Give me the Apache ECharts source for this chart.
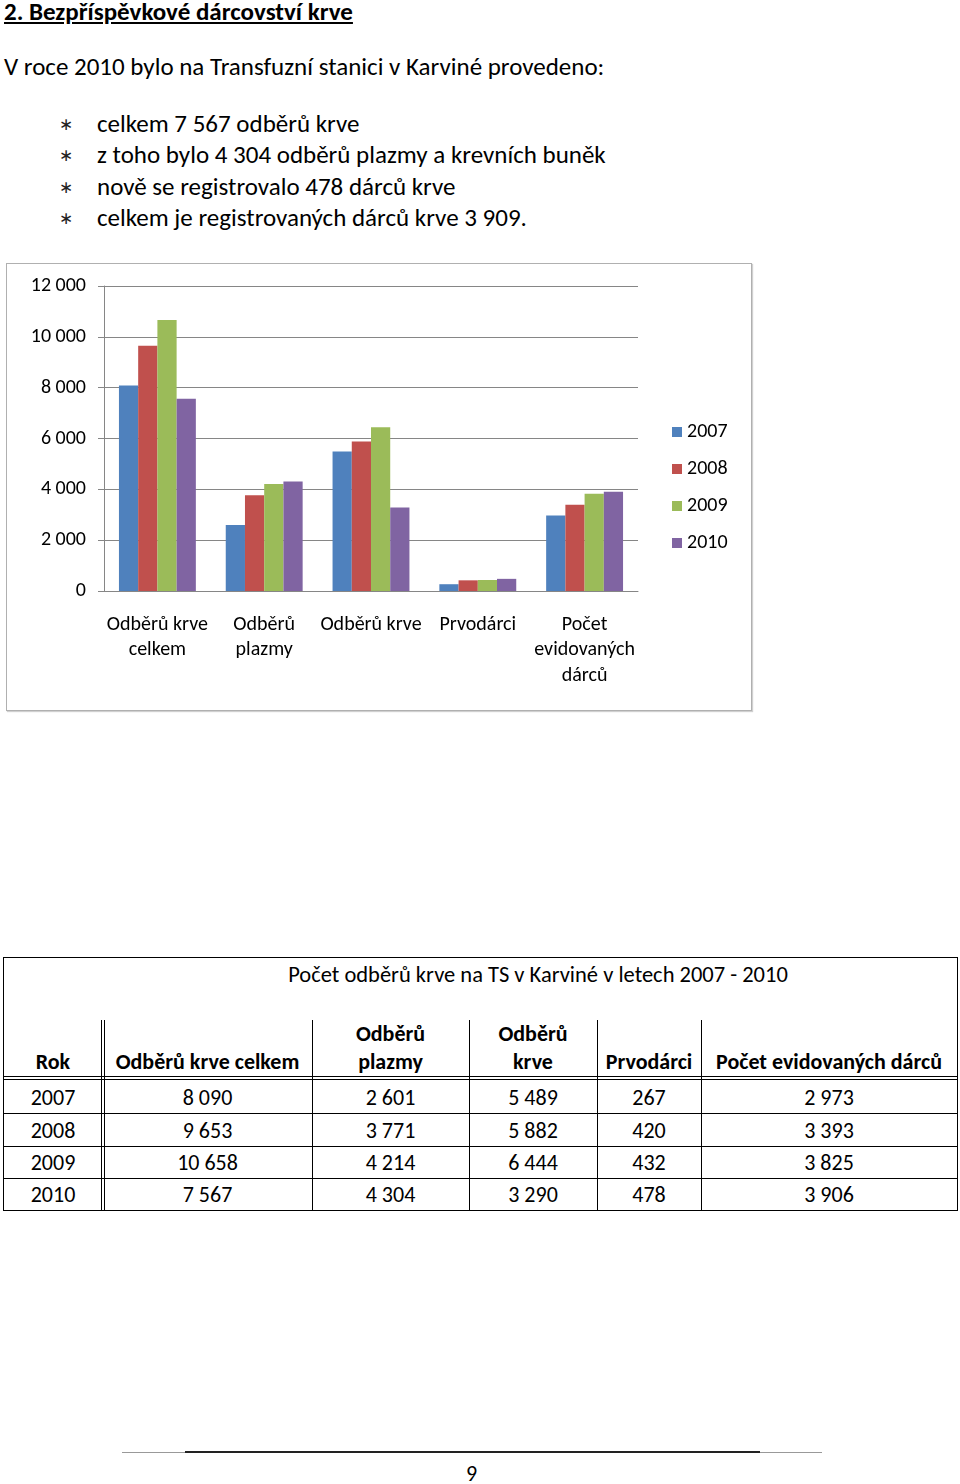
<!DOCTYPE html>
<html>
<head>
<meta charset="utf-8">
<script src="https://cdn.jsdelivr.net/npm/echarts@6/dist/echarts.min.js"></script>
<style>
  html, body { margin: 0; padding: 0; background: #fff; }
  body { width: 960px; height: 1484px; position: relative; overflow: hidden;
         font-family: Carlito, Lato, "Open Sans", sans-serif; color: #000; }
  .abs { position: absolute; white-space: nowrap; }
  .line { position: absolute; background: #000; }
  #chart { position: absolute; left: 6px; top: 263px; width: 744px; height: 446px;
           border: 1px solid #b0b0b0; box-shadow: 1px 1px 1px #d0d0d0; }
</style>
</head>
<body>
<div class="abs" style="left:4px;top:-3px;font-size:25px;line-height:30px;font-weight:bold;text-decoration:underline;">2. Bezpříspěvkové dárcovství krve</div>
<div class="abs" style="left:4px;top:52px;font-size:25px;line-height:30px;">V roce 2010 bylo na Transfuzní stanici v Karviné provedeno:</div>
<div id="bullets"></div>
<div id="chart"></div>
<div id="table"></div>
<div class="line" style="left:122px;top:1452px;width:700px;height:1px;background:#999;"></div>
<div class="line" style="left:185px;top:1451px;width:575px;height:2px;background:#222;"></div>
<div class="abs" style="left:466px;top:1460px;font-size:22px;line-height:28px;">9</div>

<script>
// chart data
const categories = ['Odběrů krve\ncelkem', 'Odběrů\nplazmy', 'Odběrů krve', 'Prvodárci', 'Počet\nevidovaných\ndárců'];
const years = ['2007', '2008', '2009', '2010'];
const v2007 = [8090, 2601, 5489, 267, 2973];
const v2008 = [9653, 3771, 5882, 420, 3393];
const v2009 = [10658, 4214, 6444, 432, 3825];
const v2010 = [7567, 4304, 3290, 478, 3906];
const colors = ['#4F81BD', '#C0504D', '#9BBB59', '#8064A2'];

// bullet text
const bullets = [
  'celkem 7 567 odběrů krve',
  'z toho bylo 4 304 odběrů plazmy a krevních buněk',
  'nově se registrovalo 478 dárců krve',
  'celkem je registrovaných dárců krve 3 909.'
];

// table
const tableTitle = 'Počet odběrů krve na TS v Karviné v letech 2007 - 2010';
const tableHeads = ['Rok', 'Odběrů krve celkem', 'Odběrů<br>plazmy', 'Odběrů<br>krve', 'Prvodárci', 'Počet evidovaných dárců'];

function fmt(n) {
  return String(n).replace(/\B(?=(\d{3})+(?!\d))/g, ' ');
}

var html = '';
bullets.forEach(function (t, i) {
  var c = 124 + i * 31.3;
  html += '<div class="abs" style="left:59px;top:' + (c - 12) + 'px;font-size:17px;line-height:26px;color:#222;">&lowast;</div>';
  html += '<div class="abs" style="left:97px;top:' + (c - 15) + 'px;font-size:25px;line-height:30px;">' + t + '</div>';
});
document.getElementById('bullets').innerHTML = html;

// ---- table drawing
var xs = [3, 103, 312, 469, 597, 701, 957];
var rowCenters = [1098, 1131, 1163, 1195];
var t = '';
function hline(x1, x2, y, c) { t += '<div class="line" style="left:' + x1 + 'px;top:' + y + 'px;width:' + (x2 - x1) + 'px;height:1px;background:' + (c || '#000') + ';"></div>'; }
function vline(x, y1, y2, c) { t += '<div class="line" style="left:' + x + 'px;top:' + y1 + 'px;width:1px;height:' + (y2 - y1) + 'px;background:' + (c || '#000') + ';"></div>'; }
hline(3, 958, 957); hline(3, 958, 1210);
vline(3, 957, 1211); vline(957, 957, 1211);
vline(101, 1020, 1210); vline(104, 1020, 1210);
[312, 469, 597, 701].forEach(function (x) { vline(x, 1020, 1210); });
hline(3, 958, 1076); hline(3, 958, 1079);
[1113, 1146, 1178].forEach(function (y) { hline(3, 958, y); });
t += '<div class="abs" style="left:3px;width:1070px;top:961px;font-size:22.5px;line-height:28px;text-align:center;">' + tableTitle + '</div>';
tableHeads.forEach(function (h, i) {
  var l = xs[i], w = xs[i + 1] - xs[i];
  t += '<div class="abs" style="left:' + l + 'px;width:' + w + 'px;bottom:' + (1484 - 1076) + 'px;font-size:22px;font-weight:bold;text-align:center;line-height:28px;">' + h + '</div>';
});
var rowsData = [v2007, v2008, v2009, v2010];
rowsData.forEach(function (vals, r) {
  var cells = [years[r]].concat(vals.map(fmt));
  cells.forEach(function (c, i) {
    var l = xs[i], w = xs[i + 1] - xs[i];
    t += '<div class="abs" style="left:' + l + 'px;width:' + w + 'px;top:' + (rowCenters[r] - 14) + 'px;font-size:22px;text-align:center;line-height:28px;">' + c + '</div>';
  });
});
document.getElementById('table').innerHTML = t;

// ---- chart
var font = 'Carlito, Lato, "Open Sans", sans-serif';
var chart = echarts.init(document.getElementById('chart'));
var seriesData = [v2007, v2008, v2009, v2010];
chart.setOption({
  animation: false,
  textStyle: { fontFamily: font },
  grid: { left: 97, top: 22, width: 534, height: 305 },
  legend: {
    orient: 'vertical',
    left: 660,
    top: 153,
    itemWidth: 10,
    itemHeight: 10,
    itemGap: 17,
    icon: 'rect',
    textStyle: { fontSize: 20, color: '#000', fontFamily: font },
    data: years
  },
  xAxis: {
    type: 'category',
    data: categories,
    axisLine: { lineStyle: { color: '#868686' } },
    axisTick: { length: 6, lineStyle: { color: '#868686' } },
    axisLabel: { interval: 0, fontSize: 20, color: '#000', lineHeight: 25.5, margin: 21, fontFamily: font }
  },
  yAxis: {
    type: 'value',
    min: 0,
    max: 12000,
    interval: 2000,
    axisLine: { show: true, lineStyle: { color: '#868686' } },
    axisTick: { show: true, length: 6, lineStyle: { color: '#868686' } },
    splitLine: { lineStyle: { color: '#868686' } },
    axisLabel: { fontSize: 20, color: '#000', margin: 18, fontFamily: font, formatter: function (v) { return fmt(v); } }
  },
  series: years.map(function (y, i) {
    return {
      name: y,
      type: 'bar',
      data: seriesData[i],
      barGap: '0%',
      barCategoryGap: '28%',
      itemStyle: { color: colors[i] }
    };
  })
});
</script>
</body>
</html>
